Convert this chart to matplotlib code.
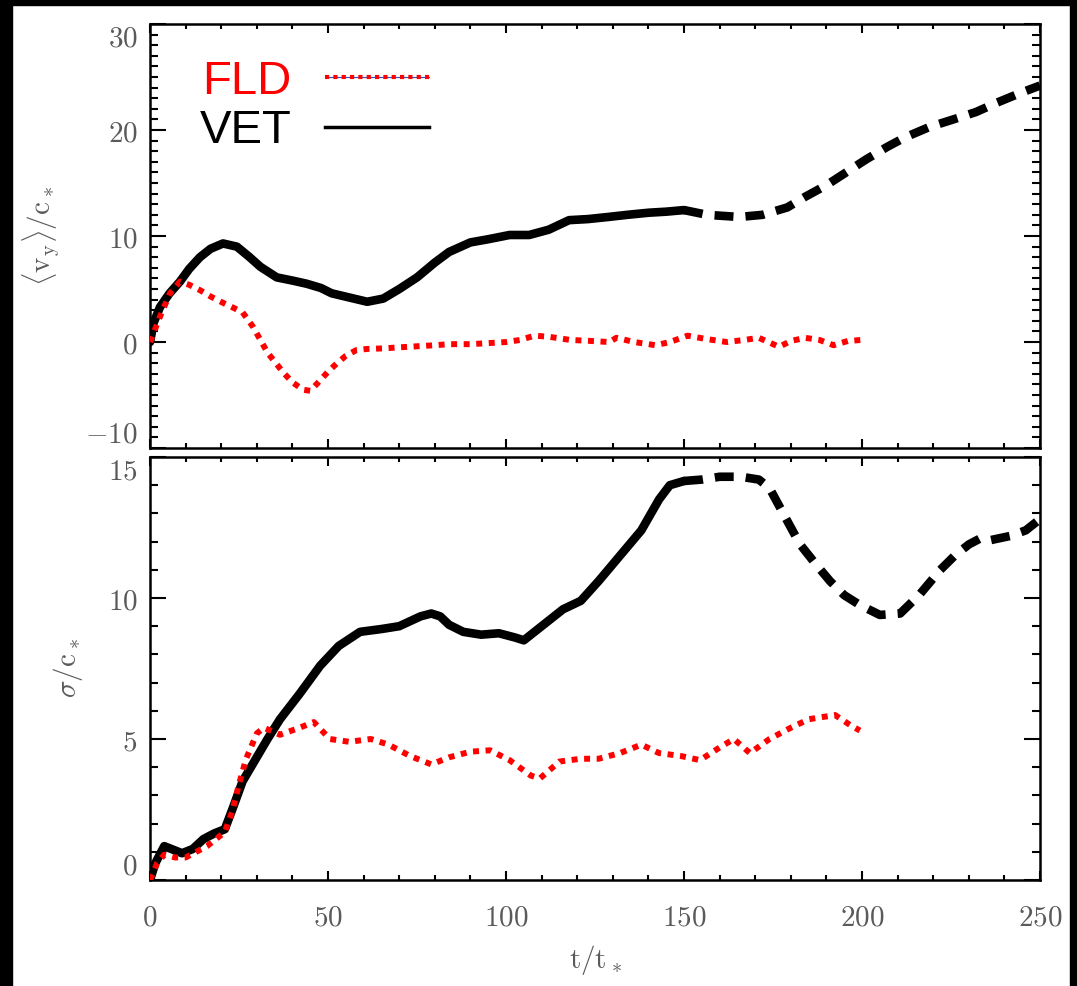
import matplotlib
matplotlib.use("Agg")
import matplotlib.pyplot as plt
from matplotlib.lines import Line2D
from matplotlib.patches import Rectangle
from matplotlib.legend_handler import HandlerTuple
from matplotlib.ticker import FuncFormatter, MultipleLocator

plt.rcParams['mathtext.fontset'] = 'cm'

# ---- top panel: <v_y>/c_* ----
vet_top_t = [0, 1, 2.8, 5.5, 8.4, 11, 14, 17, 20.5, 24.4, 28, 31, 35.6, 40, 44, 48,
             51, 56, 61, 65.5, 70, 75, 80, 84, 90, 95, 101, 106.5, 112, 117.7, 123,
             128.7, 134, 140, 145, 150]
vet_top_v = [0, 1.8, 3.3, 4.6, 5.7, 6.9, 8.0, 8.8, 9.3, 9.0, 8.0, 7.1, 6.1, 5.8, 5.5, 5.1,
             4.6, 4.2, 3.8, 4.1, 5.0, 6.1, 7.5, 8.5, 9.4, 9.7, 10.1, 10.1, 10.6, 11.5, 11.6,
             11.8, 12.0, 12.2, 12.3, 12.45]
vet_top_t_late = [150, 156.5, 165.5, 172, 179, 184, 190, 195.5, 201, 207, 212, 219, 225.6,
                  232, 238, 244.5, 250]
vet_top_v_late = [12.45, 12.0, 11.8, 12.0, 12.7, 13.7, 14.8, 16.0, 17.2, 18.4, 19.3, 20.3,
                  21.0, 21.7, 22.6, 23.5, 24.2]
fld_top_t = [0, 2.8, 5.6, 8.4, 11, 14, 17, 20.5, 23, 26, 29, 33, 37.5, 40, 43, 45, 47, 50,
             52.5, 55, 58, 61, 65.5, 70, 75, 80, 84, 90, 95, 100, 104, 108, 112, 118, 124,
             129, 131, 136, 142, 146, 151, 156, 162, 167, 171, 176.7, 180, 184, 188, 192,
             196, 200]
fld_top_v = [0, 2.4, 4.6, 5.7, 5.4, 4.9, 4.3, 3.7, 3.3, 2.8, 1.4, -1.0, -2.9, -3.8, -4.5,
             -4.6, -3.9, -2.8, -2.0, -1.3, -0.75, -0.65, -0.6, -0.5, -0.4, -0.3, -0.2, -0.2,
             -0.1, 0.0, 0.2, 0.6, 0.5, 0.2, 0.1, 0.0, 0.4, 0.0, -0.3, 0.0, 0.6, 0.3, 0.0,
             0.2, 0.4, -0.45, 0.1, 0.4, 0.2, -0.3, 0.1, 0.2]

# ---- bottom panel: sigma/c_* ----
vet_bot_t = [0, 1.5, 4, 6, 9, 12, 15, 18, 21, 23.4, 26, 29.5, 33, 36.5, 42, 47.8, 53, 59,
             65, 70, 76, 79, 81.5, 84, 88, 93, 98, 102.5, 105, 107, 112, 116, 121, 126, 132,
             138, 143, 146, 150]
vet_bot_v = [0, 0.6, 1.2, 1.1, 0.95, 1.1, 1.45, 1.65, 1.8, 2.6, 3.5, 4.25, 5.0, 5.7, 6.6,
             7.6, 8.3, 8.8, 8.9, 9.0, 9.35, 9.45, 9.35, 9.05, 8.8, 8.7, 8.75, 8.6, 8.5, 8.7, 9.2,
             9.6, 9.9, 10.6, 11.5, 12.4, 13.5, 14.0, 14.15]
vet_bot_t_late = [150, 155, 160, 166, 171, 174, 177, 180, 182.6, 187, 191, 195, 199.4, 205,
                  210.7, 216, 222, 226, 230, 233, 236, 241.6, 246, 250]
vet_bot_v_late = [14.15, 14.2, 14.3, 14.3, 14.2, 13.9, 13.2, 12.5, 11.9, 11.2, 10.6, 10.1,
                  9.75, 9.4, 9.45, 10.1, 11.0, 11.5, 11.9, 12.1, 12.05, 12.2, 12.4, 12.8]
fld_bot_t = [0, 2, 4, 7, 10, 13, 16, 19, 21, 23, 25, 27, 30, 32, 36.5, 42, 46, 50.5, 56,
             62, 67, 73, 79, 84, 90, 95.5, 101, 107, 109.5, 115, 121, 126, 132, 138, 143,
             149, 154.5, 160, 164, 168.5, 174, 180, 185, 192.4, 196.6, 199.4]
fld_bot_v = [0, 0.6, 0.9, 0.8, 0.8, 1.0, 1.2, 1.5, 1.7, 2.4, 3.4, 4.3, 5.2, 5.4, 5.15, 5.4,
             5.6, 5.0, 4.9, 5.0, 4.8, 4.4, 4.1, 4.35, 4.55, 4.6, 4.25, 3.7, 3.6, 4.2, 4.3,
             4.3, 4.5, 4.8, 4.5, 4.4, 4.25, 4.7, 5.0, 4.5, 5.0, 5.4, 5.7, 5.85, 5.5, 5.3]

labels = ['FLD', 'VET']
txtgray = '#5a5a5a'

fig = plt.figure(figsize=(10.77, 9.86), dpi=100)
fig.patch.set_facecolor('white')
# black picture border (left, top, right)
fig.add_artist(Rectangle((0, 0), 12 / 1077, 1, transform=fig.transFigure,
                         color='black', zorder=10))
fig.add_artist(Rectangle((0, 1 - 5 / 986), 1, 5 / 986, transform=fig.transFigure,
                         color='black', zorder=10))
fig.add_artist(Rectangle((1070 / 1077, 0), 7 / 1077, 1, transform=fig.transFigure,
                         color='black', zorder=10))

ax1 = fig.add_axes([0.1393, 0.5456, 0.8264, 0.4300])
ax2 = fig.add_axes([0.1393, 0.1075, 0.8264, 0.4290])

red_style = dict(color='red', lw=4.3, ls=(0, (1, 1.1)), solid_capstyle='butt',
                 dash_capstyle='butt', dash_joinstyle='round')
blk = dict(color='black', lw=6.2, solid_capstyle='round', solid_joinstyle='round')
blk_dash = dict(color='black', lw=6.2, ls=(0, (2.2, 1.4)), dash_capstyle='butt',
                dash_joinstyle='round')

ax1.plot(fld_top_t, fld_top_v, **red_style, zorder=3)
ax1.plot(vet_top_t, vet_top_v, **blk, zorder=2)
ax1.plot(vet_top_t_late, vet_top_v_late, **blk_dash, zorder=2)

ax2.plot(vet_bot_t, vet_bot_v, **blk, zorder=2)
ax2.plot(vet_bot_t_late, vet_bot_v_late, **blk_dash, zorder=2)
ax2.plot(fld_bot_t, fld_bot_v, **red_style, zorder=3)

fmt = FuncFormatter(lambda v, p: r'$%d$' % round(v) if v >= 0 else r'$-%d$' % round(-v))

for ax in (ax1, ax2):
    ax.set_xlim(0, 250)
    ax.xaxis.set_major_locator(MultipleLocator(50))
    ax.xaxis.set_minor_locator(MultipleLocator(10))
    ax.yaxis.set_minor_locator(MultipleLocator(1))
    ax.xaxis.set_major_formatter(fmt)
    ax.yaxis.set_major_formatter(fmt)
    ax.tick_params(which='both', direction='in', top=True, right=True,
                   width=1.5, colors='black', labelcolor=txtgray, labelsize=21)
    ax.tick_params(axis='x', which='major', length=6.5, pad=17)
    ax.tick_params(axis='x', which='minor', length=3.5)
    ax.tick_params(axis='y', which='major', length=11.5, pad=9)
    ax.tick_params(axis='y', which='minor', length=5.8)
    for s in ax.spines.values():
        s.set_linewidth(1.8)

ax1.set_ylim(-10, 30)
ax1.set_yticks([-10, 0, 10, 20, 30])
ax1.tick_params(labelbottom=False)
ax2.set_ylim(0, 15)
ax2.set_yticks([0, 5, 10, 15])

# IDL keeps the end labels inside the axis range
yt1 = ax1.yaxis.get_major_ticks()
yt1[0].label1.set_verticalalignment('bottom')
yt1[-1].label1.set_verticalalignment('top')
yt2 = ax2.yaxis.get_major_ticks()
yt2[0].label1.set_verticalalignment('bottom')
yt2[-1].label1.set_verticalalignment('top')

ax1.set_ylabel(r'$\langle\mathrm{v_y}\rangle/\mathrm{c_*}$', fontsize=21, color=txtgray)
ax1.yaxis.set_label_coords(-0.099, 0.5)
ax2.set_ylabel(r'$\sigma/\mathrm{c_*}$', fontsize=21, color=txtgray)
ax2.yaxis.set_label_coords(-0.073, 0.5)
ax2.set_xlabel(r'$\mathrm{t/t_*}$', fontsize=21, color=txtgray, labelpad=8)

# legend: text first, line after
h_fld = (Line2D([], [], color='#3050c0', lw=0.8),
         Line2D([], [], color='red', lw=3, ls=(0, (1, 1))))
h_vet = Line2D([], [], color='black', lw=2.5)
leg = ax1.legend([h_fld, h_vet], labels, handler_map={tuple: HandlerTuple(ndivide=1)},
                 loc='upper left', bbox_to_anchor=(0.056, 0.916), frameon=False,
                 markerfirst=False, borderpad=0, borderaxespad=0, handlelength=2.2,
                 handletextpad=0.7, labelspacing=0.12,
                 prop={'family': 'Liberation Sans', 'size': 34})
for txt, c in zip(leg.get_texts(), ['red', 'black']):
    txt.set_color(c)

fig.savefig('out.png', dpi=100, facecolor='white')
